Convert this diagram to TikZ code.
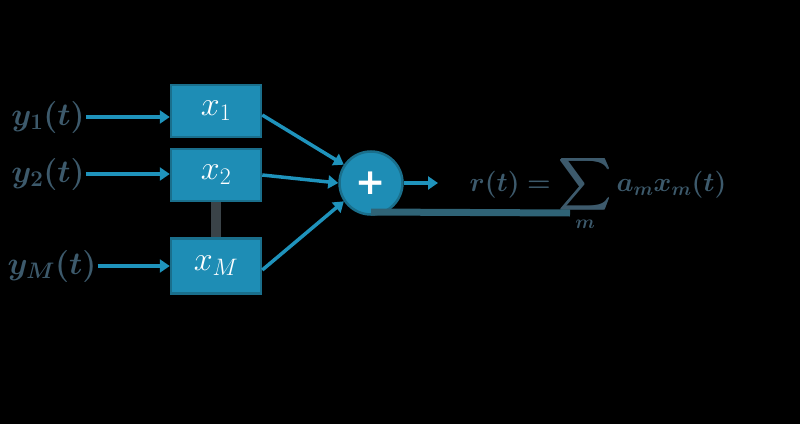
\RequirePackage{fix-cm}
\documentclass[tikz,border=0pt]{standalone}
\usepackage{amsmath}
\usepackage{bm}
\usepackage{graphicx}
\usepackage{fontspec}
\newfontfamily\plusfont{DejaVu Sans}
\usetikzlibrary{arrows.meta}
\definecolor{boxfill}{HTML}{1E8DB5}
\definecolor{boxline}{HTML}{1A6F8C}
\definecolor{arrowcol}{HTML}{1F93BC}
\definecolor{labelcol}{HTML}{3D5A6C}
\definecolor{linkgray}{HTML}{3A4348}
\newcommand{\bigsum}{\mathop{\vcenter{\hbox{\scalebox{1.45}{$\displaystyle\bm{\sum}$}}}}\limits}
\tikzset{
  chanbox/.style={draw=boxline, line width=2.5pt, fill=boxfill, text=white,
    minimum width=90pt, minimum height=52pt, font=\fontsize{34}{38}\selectfont},
  sumnode/.style={circle, draw=boxline, line width=2.5pt, fill=boxfill, text=white,
    minimum size=63pt, inner sep=0pt, font=\fontsize{36}{36}\selectfont\plusfont\bfseries},
  insig/.style={text=labelcol, font=\fontsize{32}{36}\selectfont, inner sep=1pt},
  feed/.style={draw=arrowcol, line width=3.5pt, -{Triangle[length=10pt,width=13pt]}}
}
\begin{document}
\begin{tikzpicture}[x=1pt,y=1pt]
\fill[black] (0,0) rectangle (800,424);
\useasboundingbox (0,0) rectangle (800,424);

\node[chanbox](x1) at(216,313) {$x_1$};
\node[chanbox](x2) at(216,249) {$x_2$};
\node[chanbox, minimum height=55pt](xm) at(216,158) {$x_M$};

\begin{scope}[every node/.style={insig}]
\node(y1) at(48,307) {$\bm{y_1(t)}$};
\node(y2) at(48,250) {$\bm{y_2(t)}$};
\node(ym) at(52,158) {$\bm{y_M(t)}$};
\end{scope}

\node[sumnode](sum) at(371,241) {+};
\coordinate(out) at(438,241);

\node[text=labelcol, font=\fontsize{27}{32}\selectfont](res) at(598,231)
  {$\bm{r(t)=}\bigsum_{\bm{m}} \bm{a_m x_m(t)}$};

\draw[line width=10pt, linkgray] (x2.south) -- (xm.north);
\draw[line width=7pt, linkgray!60!arrowcol] ([shift={(0,-29)}]sum.center) -- (570,211);

\draw[feed] (y1) -- (y1 -| x1.west);
\draw[feed] (y2) -- (y2 -| x2.west);
\draw[feed] (ym) -- (ym -| xm.west);

\draw[feed] ([yshift=-4pt]x1.east) -- (sum.146);
\draw[feed] (x2.east) -- (sum.180);
\draw[feed] ([yshift=-4pt]xm.east) -- (sum.214);
\draw[feed] (sum) -- (out);

\end{tikzpicture}
\end{document}
